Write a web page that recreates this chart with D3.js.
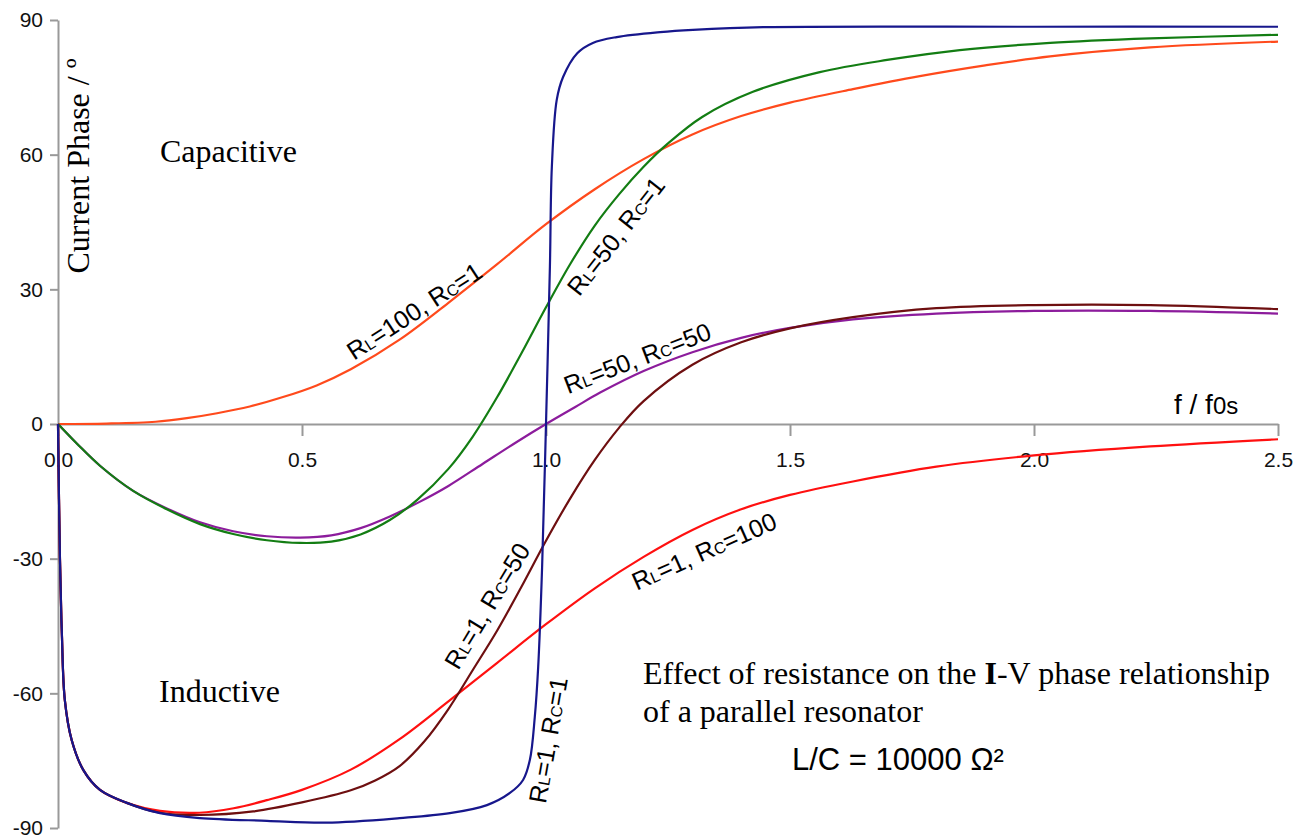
<!DOCTYPE html>
<html>
<head>
<meta charset="utf-8">
<script src="https://cdn.jsdelivr.net/npm/d3@7"></script>
<style>
  body { margin: 0; background: #fff; }
  svg { display: block; }
</style>
</head>
<body>
<div id="chart"></div>
<script>
// tick values
var xTicks = [0, 0.5, 1.0, 1.5, 2.0, 2.5];
var yTicks = [-90, -60, -30, 0, 30, 60, 90];

// [f / f0s, current phase in degrees]
var rl100rc1 = [[0, 0], [0.1, 0.1], [0.2, 0.5], [0.264, 1.3], [0.326, 2.4], [0.393, 3.9], [0.461, 6.0],
  [0.53, 8.6], [0.6, 12.2], [0.7, 18.8], [0.8, 27.0], [0.9, 35.6], [1.0, 44.5], [1.1, 52.3], [1.2, 59.0],
  [1.3, 64.5], [1.4, 68.6], [1.5, 71.6], [1.629, 74.6], [1.766, 77.5], [1.9, 79.9], [2.033, 81.9],
  [2.238, 83.9], [2.5, 85.2]];

var rl50rc50 = [[0, 0], [0.04, -4.5], [0.086, -9.3], [0.154, -14.9], [0.223, -18.8], [0.291, -21.9], [0.359, -23.9],
  [0.428, -25.0], [0.496, -25.3], [0.56, -24.8], [0.62, -23.2], [0.68, -20.6], [0.74, -17.4], [0.80, -13.8],
  [0.87, -8.9], [0.94, -4.0], [1.0, 0], [1.06, 3.8], [1.111, 7.0], [1.2, 11.8], [1.3, 16.0], [1.4, 19.2],
  [1.5, 21.4], [1.629, 23.3], [1.8, 24.6], [2.0, 25.2], [2.238, 25.2], [2.5, 24.6]];

var rl50rc1 = [[0, 0], [0.04, -4.5], [0.086, -9.3], [0.154, -14.9], [0.223, -19.0], [0.291, -22.3], [0.359, -24.5],
  [0.428, -25.9], [0.496, -26.5], [0.56, -26.2], [0.62, -24.6], [0.68, -21.4], [0.736, -16.9], [0.80, -10.0],
  [0.85, -2.8], [0.90, 6.0], [0.95, 15.8], [1.0, 26.0], [1.05, 35.7], [1.10, 44.2], [1.15, 51.2], [1.2, 57.3],
  [1.25, 62.5], [1.32, 68.4], [1.424, 74.0], [1.561, 78.4], [1.699, 81.1], [1.848, 83.3], [2.033, 84.9],
  [2.238, 85.9], [2.5, 86.7]];

var rl1rc100 = [[0, 0], [0.004, -30.0], [0.008, -47.0], [0.014, -61.5], [0.028, -70.4], [0.052, -77.1], [0.086, -81.5],
  [0.141, -84.4], [0.209, -86.2], [0.29, -86.6], [0.36, -85.6], [0.428, -83.8], [0.5, -81.5], [0.6, -77.0],
  [0.7, -70.2], [0.8, -61.8], [0.9, -53.2], [1.0, -44.6], [1.1, -36.6], [1.2, -29.6], [1.3, -23.6],
  [1.4, -19.0], [1.5, -15.8], [1.629, -12.8], [1.8, -9.5], [2.0, -7.0], [2.238, -5.0], [2.5, -3.4]];

var rl1rc50 = [[0, 0], [0.004, -30.0], [0.008, -47.0], [0.014, -61.5], [0.028, -70.4], [0.052, -77.1], [0.086, -81.5],
  [0.141, -84.4], [0.209, -86.6], [0.291, -87.1], [0.4, -86.3], [0.5, -84.3], [0.6, -81.6], [0.65, -79.4],
  [0.70, -76.2], [0.75, -70.8], [0.80, -63.5], [0.85, -54.8], [0.90, -46.0], [0.95, -36.2], [1.0, -26.0],
  [1.05, -16.5], [1.10, -8.0], [1.15, -0.8], [1.2, 5.1], [1.3, 13.2], [1.4, 18.2], [1.5, 21.3],
  [1.629, 23.8], [1.8, 25.8], [2.0, 26.5], [2.238, 26.5], [2.5, 25.6]];

var rl1rc1 = [[0, 0], [0.004, -30.0], [0.008, -47.0], [0.014, -61.5], [0.028, -70.4], [0.052, -77.1], [0.086, -81.5],
  [0.141, -84.4], [0.209, -86.7], [0.291, -87.8], [0.428, -88.4], [0.55, -88.8], [0.70, -87.8], [0.803, -86.7],
  [0.879, -84.9], [0.926, -82.2], [0.953, -79.3], [0.967, -74.8], [0.977, -65.3], [0.984, -54.1], [0.992, -31.9],
  [1.0, 0], [1.008, 35.0], [1.012, 57.3], [1.022, 72.2], [1.035, 77.3], [1.064, 82.6], [1.096, 84.9],
  [1.145, 86.2], [1.234, 87.3], [1.301, 87.8], [1.445, 88.4], [2.0, 88.5], [2.5, 88.5]];

// draw order: back to front
var series = [
  { values: rl100rc1, color: "#ff4a1c" },
  { values: rl50rc50, color: "#8c1c9c" },
  { values: rl50rc1, color: "#137d13" },
  { values: rl1rc100, color: "#ff1010" },
  { values: rl1rc50, color: "#6e0f10" },
  { values: rl1rc1, color: "#17178c" }
];

// curve labels: RL, RC, position (f, phase) and angle
var curveLabels = [
  { rl: "100", rc: "1", f: 0.730, p: 25.2, a: -33 },
  { rl: "50", rc: "1", f: 1.143, p: 41.9, a: -52 },
  { rl: "50", rc: "50", f: 1.187, p: 14.7, a: -21 },
  { rl: "1", rc: "50", f: 0.879, p: -40.5, a: -59 },
  { rl: "1", rc: "1", f: 1.004, p: -70.4, a: -80 },
  { rl: "1", rc: "100", f: 1.324, p: -28.3, a: -24 }
];

var W = 1297, H = 839;
var margin = { top: 20, right: 19, bottom: 11, left: 58 };
var sans = "'Liberation Sans', Arial, sans-serif";
var serif = "'Liberation Serif', 'Times New Roman', serif";

var svg = d3.select("#chart").append("svg").attr("width", W).attr("height", H);

var x = d3.scaleLinear().domain([0, 2.5]).range([margin.left, W - margin.right]);
var y = d3.scaleLinear().domain([-90, 90]).range([H - margin.bottom, margin.top]);

// axes
var yAxis = svg.append("g")
  .attr("transform", "translate(" + x(0) + ",0)")
  .call(d3.axisLeft(y).tickValues(yTicks).tickFormat(function (d) { return String(d); })
    .tickSize(8).tickSizeOuter(0).tickPadding(7));

var xAxis = svg.append("g")
  .attr("transform", "translate(0," + y(0) + ")")
  .call(d3.axisBottom(x).tickValues(xTicks).tickFormat(d3.format(".1f")).tickSize(12).tickSizeOuter(0).tickPadding(16));

[xAxis, yAxis].forEach(function (g) {
  g.select(".domain").attr("stroke", "#999").attr("stroke-width", 2);
  g.selectAll(".tick line").attr("stroke", "#999").attr("stroke-width", 2);
  g.selectAll(".tick text").attr("fill", "#111").style("font-family", sans).style("font-size", "21px");
});

// curves
var line = d3.line()
  .x(function (d) { return x(d[0]); })
  .y(function (d) { return y(d[1]); })
  .curve(d3.curveCatmullRom.alpha(0.5));

svg.append("g").selectAll("path")
  .data(series).enter().append("path")
  .attr("d", function (s) { return line(s.values); })
  .attr("fill", "none")
  .attr("stroke", function (s) { return s.color; })
  .attr("stroke-width", 2.2);

// curve labels
var lbl = svg.append("g").selectAll("text")
  .data(curveLabels).enter().append("text")
  .attr("transform", function (d) { return "translate(" + x(d.f) + "," + y(d.p) + ") rotate(" + d.a + ")"; })
  .attr("text-anchor", "middle")
  .attr("dy", "0.36em")
  .style("font-family", sans)
  .style("font-size", "25px")
  .attr("fill", "#000");
lbl.append("tspan").text("R");
lbl.append("tspan").style("font-size", "16px").text("L");
lbl.append("tspan").text(function (d) { return "=" + d.rl + ", R"; });
lbl.append("tspan").style("font-size", "16px").text("C");
lbl.append("tspan").text(function (d) { return "=" + d.rc; });

// axis titles
svg.append("text")
  .attr("transform", "translate(89,166) rotate(-90)")
  .attr("text-anchor", "middle")
  .style("font-family", serif).style("font-size", "32px")
  .text("Current Phase / º");

var xt = svg.append("text")
  .attr("x", 1174).attr("y", 414)
  .style("font-family", sans).style("font-size", "28px");
xt.append("tspan").text("f / f");
xt.append("tspan").style("font-size", "24px").text("0s");

// region notes
svg.append("text").attr("x", 160).attr("y", 162)
  .style("font-family", serif).style("font-size", "32px").text("Capacitive");
svg.append("text").attr("x", 159).attr("y", 702)
  .style("font-family", serif).style("font-size", "32px").text("Inductive");

var d1 = svg.append("text").attr("x", 643).attr("y", 684)
  .style("font-family", serif).style("font-size", "32px");
d1.append("tspan").text("Effect of resistance on the ");
d1.append("tspan").style("font-weight", "bold").text("I");
d1.append("tspan").text("-V phase relationship");
svg.append("text").attr("x", 643).attr("y", 722)
  .style("font-family", serif).style("font-size", "32px").text("of a parallel resonator");

svg.append("text").attr("x", 792).attr("y", 770)
  .style("font-family", sans).style("font-size", "31px").text("L/C = 10000 Ω²");
</script>
</body>
</html>
